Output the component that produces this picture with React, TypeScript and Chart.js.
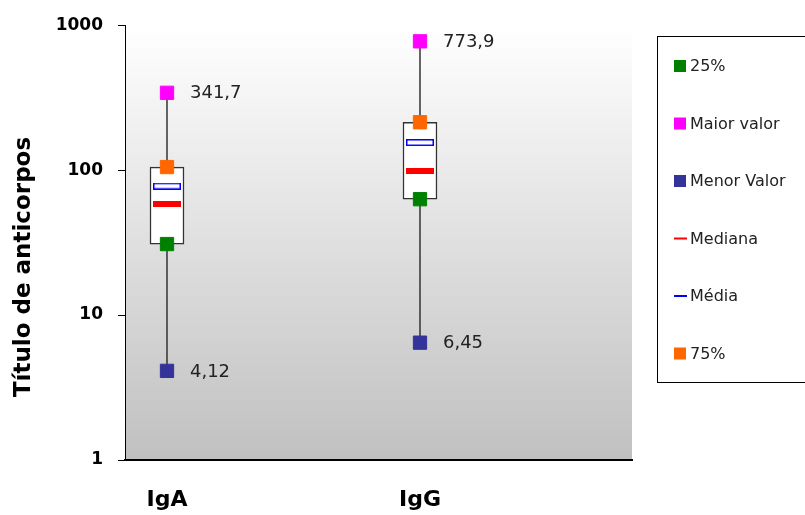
import React, { useEffect, useRef } from 'react';
import { Chart, registerables } from 'chart.js';

Chart.register(...registerables);

// ---- data ----
const categories = ['IgA', 'IgG'];
const categoryPositions = [1, 2];
const q1Values = [30.9, 63];          // 25%
const maxValues = [341.7, 773.9];     // Maior valor
const minValues = [4.12, 6.45];       // Menor Valor
const medianValues = [58.3, 99];      // Mediana
const meanValues = [77.6, 155];       // Média
const q3Values = [105, 214];          // 75%
const yTicks = [1, 10, 100, 1000];
const seriesLabels = ['25%', 'Maior valor', 'Menor Valor', 'Mediana', 'Média', '75%'];
const seriesColors = ['#008000', '#ff00ff', '#333399', '#ff0000', '#0000ff', '#ff6600'];
const yTitle = 'Título de anticorpos';

const FONT = "'DejaVu Sans', 'Liberation Sans', Arial, sans-serif";

function pts(values: number[]) {
  return values.map((v, i) => ({ x: categoryPositions[i], y: v }));
}

function makeBarCanvas(w: number, h: number, fill: string, stroke: string | null, lw: number) {
  const c = document.createElement('canvas');
  c.width = w;
  c.height = h;
  const ctx = c.getContext('2d')!;
  ctx.fillStyle = fill;
  ctx.fillRect(0, 0, w, h);
  if (stroke) {
    ctx.strokeStyle = stroke;
    ctx.lineWidth = lw;
    ctx.strokeRect(lw / 2, lw / 2, w - lw, h - lw);
  }
  return c;
}

const bgPlugin = {
  id: 'bgGradient',
  beforeDraw(chart: any) {
    const { ctx, chartArea } = chart;
    if (!chartArea) return;
    const g = ctx.createLinearGradient(0, chartArea.top, 0, chartArea.bottom);
    g.addColorStop(0, '#ffffff');
    g.addColorStop(1, '#c0c0c0');
    ctx.save();
    ctx.fillStyle = g;
    ctx.fillRect(chartArea.left, chartArea.top, chartArea.right - chartArea.left, chartArea.bottom - chartArea.top);
    ctx.restore();
  },
};

const titlePlugin = {
  id: 'yTitle',
  afterDraw(chart: any) {
    const { ctx } = chart;
    ctx.save();
    ctx.translate(24, 267);
    ctx.rotate(-Math.PI / 2);
    ctx.font = `bold 23px ${FONT}`;
    ctx.fillStyle = '#000';
    ctx.textAlign = 'center';
    ctx.textBaseline = 'middle';
    ctx.fillText(yTitle, 0, 0);
    ctx.restore();
  },
};

const valueLabelPlugin = {
  id: 'valueLabels',
  afterDatasetsDraw(chart: any) {
    const { ctx } = chart;
    const xs = chart.scales.x;
    const ys = chart.scales.y;
    ctx.save();
    ctx.font = `18px ${FONT}`;
    ctx.fillStyle = '#222';
    ctx.textAlign = 'left';
    ctx.textBaseline = 'middle';
    [maxValues, minValues].forEach((arr) => {
      arr.forEach((v, i) => {
        const px = xs.getPixelForValue(categoryPositions[i]);
        const py = ys.getPixelForValue(v);
        ctx.fillText(String(v).replace('.', ','), px + 23, py + 1);
      });
    });
    ctx.restore();
  },
};

const legendPlugin = {
  id: 'boxLegend',
  afterDraw(chart: any) {
    const { ctx } = chart;
    ctx.save();
    ctx.strokeStyle = '#000';
    ctx.lineWidth = 1;
    ctx.fillStyle = '#fff';
    ctx.fillRect(657.5, 36.5, 160, 346);
    ctx.strokeRect(657.5, 36.5, 160, 346);
    ctx.font = `16px ${FONT}`;
    ctx.textAlign = 'left';
    ctx.textBaseline = 'middle';
    const top = 66;
    const step = 57.5;
    seriesLabels.forEach((label, i) => {
      const cy = top + i * step;
      const color = seriesColors[i];
      ctx.fillStyle = color;
      if (label === 'Mediana' || label === 'Média') {
        ctx.fillRect(674, cy - 1, 13, 2);
      } else {
        ctx.fillRect(674, cy - 6, 12, 12);
      }
      ctx.fillStyle = '#222';
      ctx.fillText(label, 690, cy + 1);
    });
    ctx.restore();
  },
};

export default function App() {
  const ref = useRef<HTMLCanvasElement | null>(null);

  useEffect(() => {
    if (!ref.current) return;
    const medianStyle = makeBarCanvas(28, 6, '#ff0000', null, 0);
    const meanStyle = makeBarCanvas(28, 7, '#ffffff', '#0000ff', 1.5);

    const square = (label: string, values: number[], color: string) => ({
      type: 'scatter' as const,
      label,
      data: pts(values),
      pointStyle: 'rect',
      pointRadius: 9.4,
      pointBackgroundColor: color,
      pointBorderColor: color,
      pointBorderWidth: 1,
      order: 1,
    });

    const chart = new Chart(ref.current, {
      type: 'scatter',
      data: {
        datasets: [
          ...categoryPositions.map((p, i) => ({
            type: 'scatter' as const,
            label: 'whisker ' + categories[i],
            data: [{ x: p, y: minValues[i] }, { x: p, y: maxValues[i] }],
            showLine: true,
            borderColor: '#333',
            borderWidth: 1.5,
            pointRadius: 0,
            order: 5,
          })),
          {
            type: 'bar' as const,
            label: 'box',
            data: categoryPositions.map((p, i) => ({ x: p, y: [q1Values[i], q3Values[i]] })) as any,
            backgroundColor: '#ffffff',
            borderColor: '#333',
            borderWidth: 1.5,
            borderSkipped: false,
            barThickness: 34,
            order: 4,
          } as any,
          square(seriesLabels[0], q1Values, seriesColors[0]),
          square(seriesLabels[1], maxValues, seriesColors[1]),
          square(seriesLabels[2], minValues, seriesColors[2]),
          {
            type: 'scatter' as const,
            label: seriesLabels[3],
            data: pts(medianValues),
            pointStyle: medianStyle as any,
            pointRadius: 10,
            order: 1,
          },
          {
            type: 'scatter' as const,
            label: seriesLabels[4],
            data: pts(meanValues),
            pointStyle: meanStyle as any,
            pointRadius: 10,
            order: 1,
          },
          square(seriesLabels[5], q3Values, seriesColors[5]),
        ] as any,
      },
      options: {
        responsive: false,
        animation: false,
        layout: { padding: { top: 25, right: 173, left: 0, bottom: 0 } },
        plugins: {
          legend: { display: false },
          tooltip: { enabled: false },
        },
        scales: {
          x: {
            type: 'linear',
            position: 'bottom',
            offset: false,
            min: 0.834,
            max: 2.838,
            afterBuildTicks: (s: any) => {
              s.ticks = categoryPositions.map((v) => ({ value: v }));
            },
            afterFit: (s: any) => {
              s.height = 55;
            },
            ticks: {
              autoSkip: false,
              maxRotation: 0,
              padding: 27,
              color: '#000',
              font: { family: FONT, size: 22, weight: 'bold' },
              callback: (v: any) => categories[categoryPositions.indexOf(Number(v))] ?? '',
            },
            grid: { display: false, drawTicks: false, offset: false },
            border: { display: true, color: '#000', width: 2 },
          },
          y: {
            type: 'logarithmic',
            min: 1,
            max: 1000,
            afterBuildTicks: (s: any) => {
              s.ticks = yTicks.map((v) => ({ value: v }));
            },
            afterFit: (s: any) => {
              s.width = 125;
            },
            ticks: {
              autoSkip: false,
              padding: 15,
              color: '#000',
              font: { family: FONT, size: 17, weight: 'bold' },
              callback: (v: any) => String(v),
            },
            grid: {
              display: true,
              drawOnChartArea: false,
              drawTicks: true,
              tickLength: 7,
              color: '#000',
              lineWidth: 1,
            },
            border: { display: true, color: '#000', width: 1 },
            title: { display: false, text: yTitle },
          },
        },
      } as any,
      plugins: [bgPlugin, valueLabelPlugin, legendPlugin, titlePlugin],
    });
    return () => chart.destroy();
  }, []);

  return (
    <div style={{ position: 'absolute', left: 0, top: 0, width: 805, height: 515, background: '#fff' }}>
      <canvas ref={ref} width={805} height={515} style={{ display: 'block' }} />
    </div>
  );
}
